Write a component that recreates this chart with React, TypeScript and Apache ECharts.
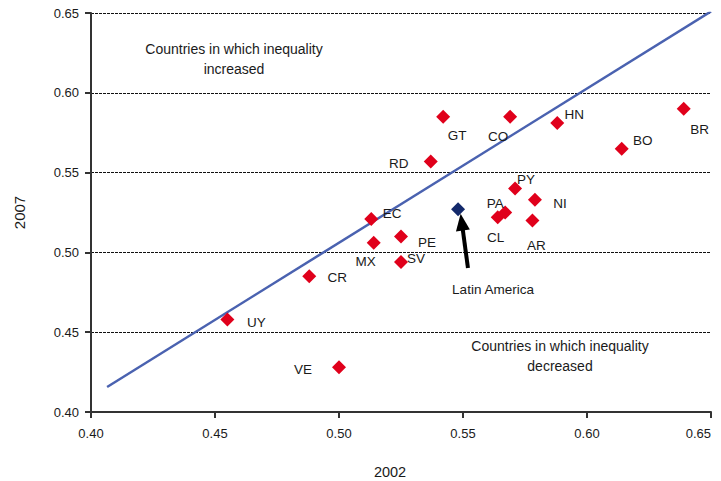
import React, { useEffect, useRef } from "react";
import * as echarts from "echarts";

const codes = ["UY", "VE", "CR", "MX", "EC", "PE", "SV", "RD", "GT", "CO", "HN", "BO", "BR", "PY", "NI", "PA", "CL", "AR"];
const gini2002 = [0.455, 0.5, 0.488, 0.514, 0.513, 0.525, 0.525, 0.537, 0.542, 0.569, 0.588, 0.614, 0.639, 0.571, 0.579, 0.567, 0.564, 0.578];
const gini2007 = [0.458, 0.428, 0.485, 0.506, 0.521, 0.51, 0.494, 0.557, 0.585, 0.585, 0.581, 0.565, 0.59, 0.54, 0.533, 0.525, 0.522, 0.52];

const latamName = "Latin America";
const latam2002 = [0.548];
const latam2007 = [0.527];

const lineX = [0.4065, 0.65];
const lineY = [0.4157, 0.651];

const arrowFrom = [0.552, 0.4902];
const arrowTo = [0.5495, 0.519];

const xTicks = [0.4, 0.45, 0.5, 0.55, 0.6, 0.65];
const yTicks = [0.4, 0.45, 0.5, 0.55, 0.6, 0.65];

// label offsets (layout only)
const labelOffsets: Record<string, [number, number]> = {
  UY: [29, 3], VE: [-36, 2], CR: [28, 1], MX: [-8, 19], EC: [21, -5], PE: [26, 6],
  SV: [15, -3], RD: [-32, 2], GT: [14, 19], CO: [-12, 20], HN: [17, -9], BO: [21, -8],
  BR: [16, 21], PY: [11, -9], NI: [25, 4], PA: [-10, -9], CL: [-2, 20], AR: [4, 25],
};

const FONT = "'Liberation Sans', Arial, Helvetica, sans-serif";

export default function App() {
  const ref = useRef<HTMLDivElement>(null);
  useEffect(() => {
    if (!ref.current) return;
    const chart = echarts.init(ref.current, undefined, { renderer: "svg" });
    const countryData = codes.map((c, i) => ({
      name: c,
      value: [gini2002[i], gini2007[i]],
      label: {
        show: true,
        position: "inside" as const,
        offset: labelOffsets[c],
        formatter: c,
        color: "#1a1a1a",
        fontSize: 13.5,
        fontFamily: FONT,
      },
    }));
    chart.setOption({
      animation: false,
      backgroundColor: "#fff",
      grid: { left: 91, right: 10, top: 13, bottom: 69, outerBoundsMode: "none", containLabel: false },
      xAxis: {
        type: "value",
        min: 0.4,
        max: 0.65,
        interval: 0.05,
        name: "2002",
        nameLocation: "middle",
        nameGap: 52,
        nameTextStyle: { color: "#1a1a1a", fontSize: 14.5, fontFamily: FONT, padding: [0, 22, 0, 0] },
        axisLine: { show: true, lineStyle: { color: "#333", width: 2 } },
        axisTick: { show: true, length: 6, lineStyle: { color: "#333", width: 2 } },
        axisLabel: {
          color: "#1a1a1a",
          fontSize: 13,
          fontFamily: FONT,
          margin: 15,
          alignMaxLabel: "right",
          formatter: (v: number) => v.toFixed(2),
          customValues: xTicks,
        },
        splitLine: { show: false },
      },
      yAxis: {
        type: "value",
        min: 0.4,
        max: 0.65,
        interval: 0.05,
        name: "2007",
        nameLocation: "middle",
        nameGap: 64,
        nameRotate: 90,
        nameTextStyle: { color: "#1a1a1a", fontSize: 15, fontFamily: FONT },
        axisLine: { show: true, lineStyle: { color: "#333", width: 2 } },
        axisTick: { show: true, length: 6, lineStyle: { color: "#333", width: 2 } },
        axisLabel: {
          color: "#1a1a1a",
          fontSize: 13,
          fontFamily: FONT,
          margin: 12,
          formatter: (v: number) => v.toFixed(2),
          customValues: yTicks,
        },
        splitLine: { show: true, lineStyle: { color: "#111", width: 1, type: [3, 1] } },
      },
      series: [
        {
          type: "line",
          data: lineX.map((x, i) => [x, lineY[i]]),
          symbol: "none",
          lineStyle: { color: "#4a62b0", width: 2.5 },
          z: 3,
          silent: true,
        },
        {
          type: "scatter",
          symbol: "diamond",
          symbolSize: 14,
          itemStyle: { color: "#e0001b", opacity: 1 },
          data: countryData,
          z: 4,
        },
        {
          type: "scatter",
          name: latamName,
          symbol: "diamond",
          symbolSize: 14,
          itemStyle: { color: "#13296b", opacity: 1 },
          data: latam2002.map((x, i) => [x, latam2007[i]]),
          z: 4,
          markLine: {
            silent: true,
            symbol: ["none", "triangle"],
            symbolSize: [14, 17],
            lineStyle: { color: "#000", width: 4, type: "solid", opacity: 1 },
            label: { show: false },
            data: [[{ coord: arrowFrom }, { coord: arrowTo }]],
          },
        },
      ],
      graphic: [
        {
          type: "text",
          x: 234,
          y: 39,
          style: {
            text: "Countries in which inequality\nincreased",
            align: "center",
            verticalAlign: "top",
            fill: "#1a1a1a",
            font: `14px ${FONT}`,
            lineHeight: 20,
          },
        },
        {
          type: "text",
          x: 560,
          y: 336,
          style: {
            text: "Countries in which inequality\ndecreased",
            align: "center",
            verticalAlign: "top",
            fill: "#1a1a1a",
            font: `14px ${FONT}`,
            lineHeight: 20,
          },
        },
        {
          type: "text",
          x: 493,
          y: 282,
          style: {
            text: latamName,
            align: "center",
            verticalAlign: "top",
            fill: "#1a1a1a",
            font: `13.5px ${FONT}`,
          },
        },
      ],
    });
    return () => chart.dispose();
  }, []);
  return (
    <div
      ref={ref}
      style={{ position: "fixed", left: 0, top: 0, width: 721, height: 481 }}
    />
  );
}
